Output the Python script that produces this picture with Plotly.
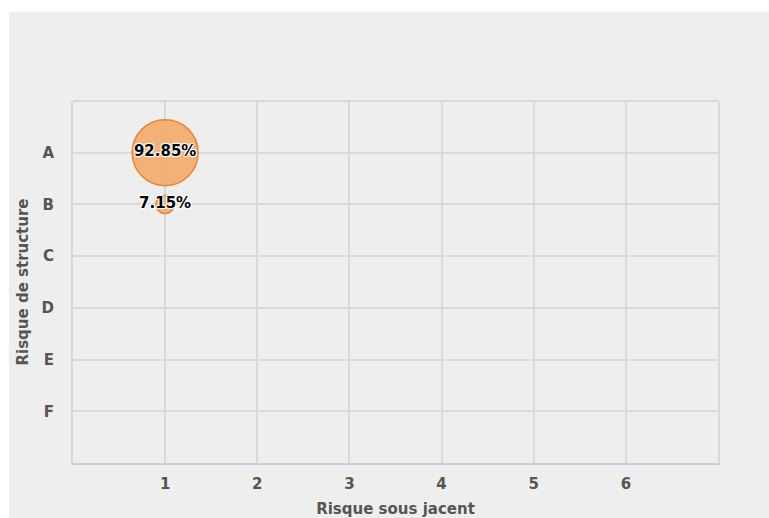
import plotly.graph_objects as go

x_vals = [1, 1]
y_cats = ["A", "B"]
shares = [92.85, 7.15]
labels = ["92.85%", "7.15%"]
y_categories = ["A", "B", "C", "D", "E", "F"]
x_ticks = [1, 2, 3, 4, 5, 6]

max_diam = 66
sizeref = 2 * max(shares) / (max_diam ** 2)

W, H = 769, 518
L, R, T, B = 73, 51, 101, 55
PW, PH = W - L - R, H - T - B

fig = go.Figure()
fig.add_trace(go.Scatter(
    x=x_vals, y=y_cats, mode="markers+text",
    text=labels, textposition="middle center",
    textfont=dict(family="DejaVu Sans", size=15, color="#000000", weight="bold",
                  shadow="-1px -1px 1px #fff, 1px -1px 1px #fff, -1px 1px 1px #fff, 1px 1px 1px #fff"),
    marker=dict(size=shares, sizemode="area", sizeref=sizeref,
                color="rgba(242,166,98,0.85)", opacity=1,
                line=dict(color="#e8843a", width=1.5)),
    hoverinfo="skip", showlegend=False,
))

grid = "#d9d9d9"
fig.update_layout(
    width=W, height=H,
    margin=dict(l=L, r=R, t=T, b=B, pad=0, autoexpand=False),
    paper_bgcolor="#eeeeee", plot_bgcolor="#eeeeee",
    font=dict(family="DejaVu Sans", color="#555555"),
    xaxis=dict(range=[0, 7], tickvals=x_ticks, ticktext=[str(t) for t in x_ticks],
               automargin=False,
               showgrid=True, gridcolor=grid, gridwidth=1.5, zeroline=False,
               showline=True, linecolor="#c5d2e3", linewidth=2,
               tickfont=dict(size=15, weight="bold", color="#555555"), ticklen=0,
               ticklabelstandoff=6,
               title=dict(text="Risque sous jacent", font=dict(size=15, weight="bold", color="#555555"), standoff=14)),
    yaxis=dict(type="category", categoryarray=y_categories, categoryorder="array",
               automargin=False,
               range=[6, -1], showgrid=True, gridcolor=grid, gridwidth=1.5,
               zeroline=False, showline=True, mirror=True, linecolor=grid, linewidth=2,
               tickfont=dict(size=15, weight="bold", color="#555555"), ticklen=0,
               ticklabelstandoff=14,
               title=dict(text="Risque de structure", font=dict(size=15, weight="bold", color="#555555"), standoff=9)),
    shapes=[
        dict(type="rect", xref="paper", yref="paper", layer="below",
             x0=-0.3, x1=1.3, y0=(H - B - 12) / PH, y1=1.5,
             fillcolor="#ffffff", line=dict(width=0)),
        dict(type="rect", xref="paper", yref="paper", layer="below",
             x0=-0.3, x1=(9 - L) / PW, y0=-0.5, y1=1.5,
             fillcolor="#ffffff", line=dict(width=0)),
        dict(type="line", xref="paper", yref="paper", x0=0, x1=1, y0=1, y1=1,
             line=dict(color=grid, width=2)),
    ],
)
fig.write_html("out.html", config={"displayModeBar": False},
               post_script="document.body.style.margin='0';document.body.style.overflow='hidden';")
